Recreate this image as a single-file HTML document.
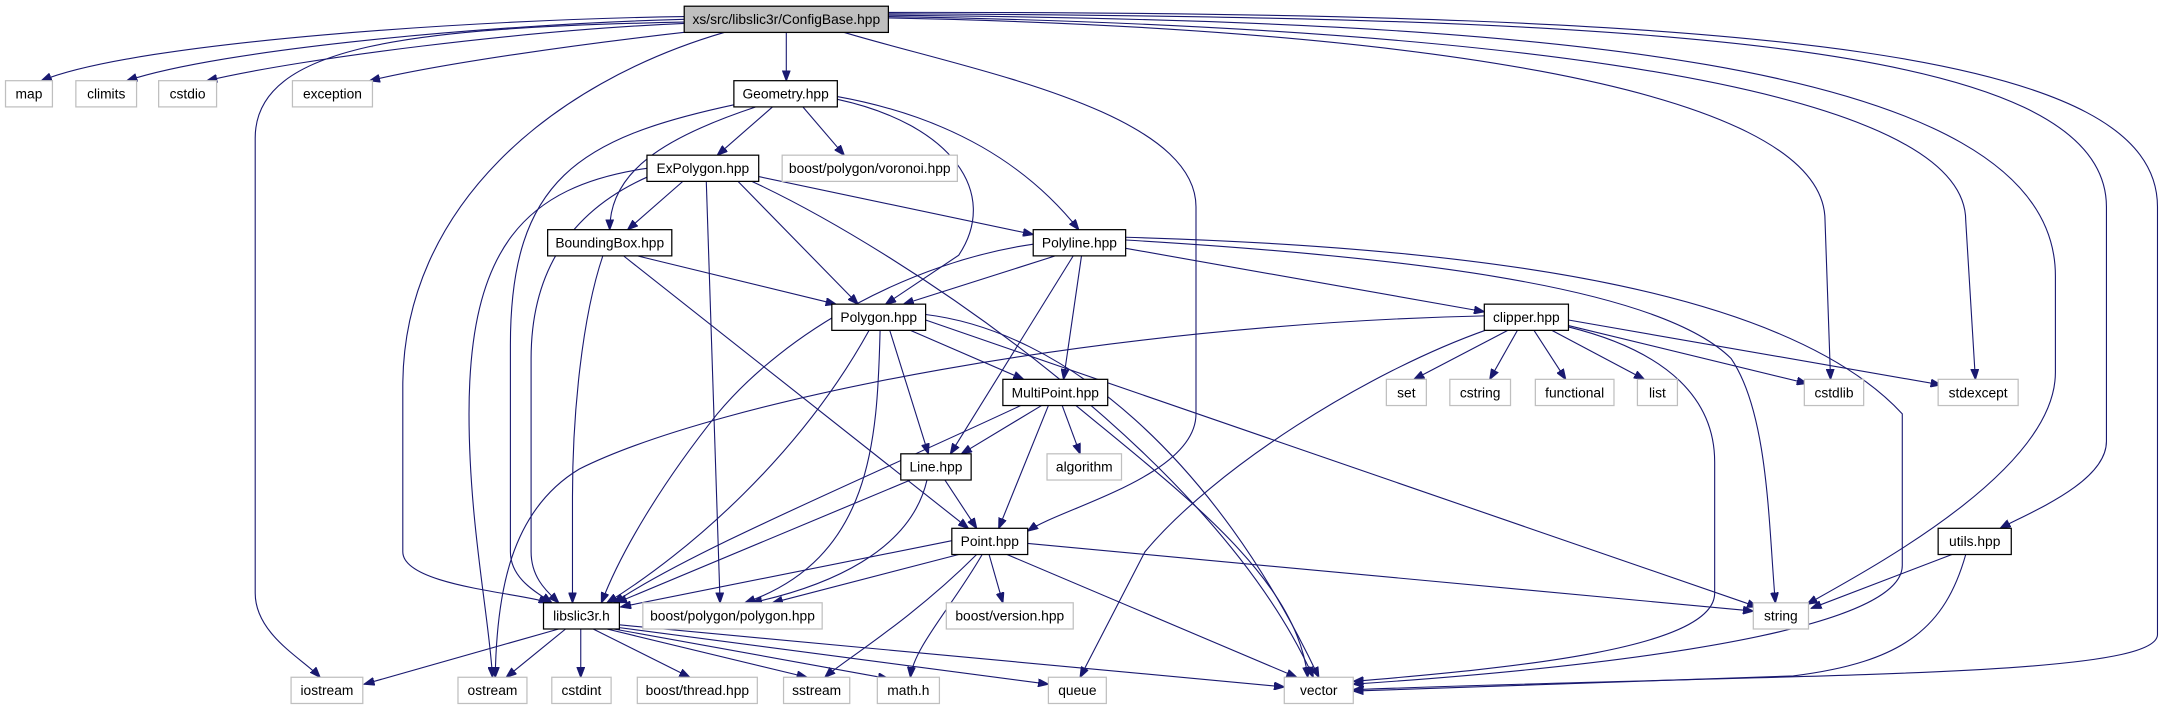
<!DOCTYPE html>
<html><head><meta charset="utf-8"><style>
html,body{margin:0;padding:0;background:#fff;}
svg{display:block;}
text{font-family:"Liberation Sans",Arial,sans-serif;font-size:10px;fill:#000;text-anchor:middle;}
.e{fill:none;stroke:#191970;stroke-width:0.8;}
.n{fill:#fff;stroke:#000;stroke-width:0.9;}
.x{fill:#fff;stroke:#bfbfbf;stroke-width:0.9;}
</style></head><body>
<svg width="2163" height="709" viewBox="0 0 1568 514" preserveAspectRatio="none" xmlns="http://www.w3.org/2000/svg">
<defs><marker id="a" markerUnits="userSpaceOnUse" markerWidth="8" markerHeight="6" refX="7.5" refY="3" orient="auto"><path d="M0,0 L8,3 L0,6 z" fill="#191970" stroke="#191970" stroke-width="0.5"/></marker></defs>
<g marker-end="url(#a)">
<!-- ConfigBase -->
<path class="e" d="M496,12 C350,14 100,30 30,58.5"/>
<path class="e" d="M496,14 C350,18 160,36 92,58.5"/>
<path class="e" d="M496,17 C380,22 220,42 150,58.5"/>
<path class="e" d="M500,23 C420,32 320,46 268,58.5"/>
<path class="e" d="M496,16 C300,20 185,32 185,100 L185,430 C185,460 220,478 232,491"/>
<path class="e" d="M525,23.5 C400,60 292,150 292,280 L292,400 C292,425 380,430 398,437"/>
<path class="e" d="M570,23.5 L570,58.5"/>
<path class="e" d="M612,23.5 C700,50 867,80 867,150 L867,300 C867,345 770,368 745,385"/>
<path class="e" d="M644,13 C1000,20 1323,60 1323,160 L1327,275"/>
<path class="e" d="M644,12 C1000,18 1425,50 1425,160 L1432,275"/>
<path class="e" d="M644,11 C1100,15 1490,40 1490,200 L1490,270 C1490,340 1360,410 1310,438"/>
<path class="e" d="M644,10 C1200,12 1527,30 1527,150 L1527,320 C1527,350 1470,372 1450,383"/>
<path class="e" d="M644,9 C1300,8 1564,40 1564,150 L1564,460 C1564,492 1300,488 981,500"/>
<!-- Geometry -->
<path class="e" d="M560,77.5 L520,112.5"/>
<path class="e" d="M582,77.5 L612,112.5"/>
<path class="e" d="M548,77.5 C480,100 442,125 442,166.5"/>
<path class="e" d="M532,76 C420,100 370,130 370,250 L370,400 C370,420 390,430 400,437"/>
<path class="e" d="M607,72 C690,90 725,140 695,185 L642,220.5"/>
<path class="e" d="M607,70 C690,85 745,120 782,166.5"/>
<!-- ExPolygon -->
<path class="e" d="M495,131.5 L455,166.5"/>
<path class="e" d="M550,128 L749,170"/>
<path class="e" d="M535,131.5 L622,220.5"/>
<path class="e" d="M545,131.5 C650,180 880,330 952,491"/>
<path class="e" d="M512,131.5 L522,437"/>
<path class="e" d="M470,128 C420,150 385,190 385,260 L385,400 C385,420 398,430 405,437"/>
<path class="e" d="M469,122 C380,135 340,180 340,300 C340,380 355,450 357,491"/>
<!-- BoundingBox -->
<path class="e" d="M462,185.5 L606,220.5"/>
<path class="e" d="M437,185.5 C422,230 415,300 415,360 L415,437"/>
<path class="e" d="M452,185.5 L702,383"/>
<!-- Polyline -->
<path class="e" d="M765,185.5 L655,220.5"/>
<path class="e" d="M749,177 C660,190 570,240 520,300 C480,350 450,400 436,437"/>
<path class="e" d="M778,185.5 L689,329"/>
<path class="e" d="M784,185.5 L771,275"/>
<path class="e" d="M816,180 L1076,226"/>
<path class="e" d="M816,174 C1000,185 1200,205 1255,260 C1282,300 1282,380 1287,437"/>
<path class="e" d="M816,172 C1100,180 1300,215 1379,300 L1379,410 C1379,465 1100,488 981,496"/>
<!-- Polygon -->
<path class="e" d="M660,239.5 L742,275"/>
<path class="e" d="M645,239.5 L673,329"/>
<path class="e" d="M630,239.5 C580,330 500,400 440,437"/>
<path class="e" d="M638,239.5 C636,320 632,405 540,437"/>
<path class="e" d="M671,228 C770,240 880,330 956,491"/>
<path class="e" d="M671,232 L1274,440"/>
<!-- clipper -->
<path class="e" d="M1093,239.5 L1025,275"/>
<path class="e" d="M1100,239.5 L1080,275"/>
<path class="e" d="M1112,239.5 L1135,275"/>
<path class="e" d="M1125,239.5 L1192,275"/>
<path class="e" d="M1137,236 L1310,278"/>
<path class="e" d="M1137,232 L1407,279"/>
<path class="e" d="M1076,229 C800,235 520,290 420,340 C370,370 360,430 359,491"/>
<path class="e" d="M1078,239 C990,270 880,340 830,400 L783,491"/>
<path class="e" d="M1137,237 C1210,255 1243,290 1243,335 L1243,430 C1243,470 1100,484 981,494"/>
<!-- MultiPoint -->
<path class="e" d="M755,294 L697,329"/>
<path class="e" d="M770,294 L783,329"/>
<path class="e" d="M760,294 L724,383"/>
<path class="e" d="M740,294 C620,350 500,400 445,437"/>
<path class="e" d="M780,294 C860,360 940,420 948,491"/>
<!-- Line -->
<path class="e" d="M685,348 L708,383"/>
<path class="e" d="M660,348 L447,437"/>
<path class="e" d="M672,348 C660,400 600,425 545,437"/>
<!-- Point -->
<path class="e" d="M690,392 L450,440"/>
<path class="e" d="M695,402 L560,437"/>
<path class="e" d="M717,402 L727,437"/>
<path class="e" d="M708,402 C660,450 610,480 598,491"/>
<path class="e" d="M712,402 C690,440 662,470 660,491"/>
<path class="e" d="M730,402 L940,491"/>
<path class="e" d="M745,394 L1271,443"/>
<!-- utils -->
<path class="e" d="M1415,402 L1313,441"/>
<path class="e" d="M1425,402 C1410,455 1380,480 1300,490 L981,501"/>
<!-- libslic3r -->
<path class="e" d="M405,456 L264,496"/>
<path class="e" d="M410,456 L367,491"/>
<path class="e" d="M421,456 L421,491"/>
<path class="e" d="M430,456 L500,491"/>
<path class="e" d="M440,456 L585,491"/>
<path class="e" d="M445,456 L644,492"/>
<path class="e" d="M449,455 L760,496"/>
<path class="e" d="M449,453 L931,498"/>
</g>
<!-- nodes -->
<rect x="496" y="4.5" width="148" height="19" fill="#bfbfbf" stroke="#000" stroke-width="0.9"/><text x="570" y="17.5">xs/src/libslic3r/ConfigBase.hpp</text>
<rect class="x" x="4" y="58.5" width="34" height="19"/><text x="21" y="71.5">map</text>
<rect class="x" x="55" y="58.5" width="44" height="19"/><text x="77" y="71.5">climits</text>
<rect class="x" x="115" y="58.5" width="42" height="19"/><text x="136" y="71.5">cstdio</text>
<rect class="x" x="212" y="58.5" width="58" height="19"/><text x="241" y="71.5">exception</text>
<rect class="n" x="532" y="58.5" width="75" height="19"/><text x="569.5" y="71.5">Geometry.hpp</text>
<rect class="n" x="469" y="112.5" width="81" height="19"/><text x="509.5" y="125.5">ExPolygon.hpp</text>
<rect class="x" x="567" y="112.5" width="127" height="19"/><text x="630.5" y="125.5">boost/polygon/voronoi.hpp</text>
<rect class="n" x="397" y="166.5" width="90" height="19"/><text x="442" y="179.5">BoundingBox.hpp</text>
<rect class="n" x="749" y="166.5" width="67" height="19"/><text x="782.5" y="179.5">Polyline.hpp</text>
<rect class="n" x="603" y="220.5" width="68" height="19"/><text x="637" y="233.5">Polygon.hpp</text>
<rect class="n" x="1076" y="220.5" width="61" height="19"/><text x="1106.5" y="233.5">clipper.hpp</text>
<rect class="n" x="727" y="275" width="76" height="19"/><text x="765" y="288">MultiPoint.hpp</text>
<rect class="x" x="1005" y="275" width="29" height="19"/><text x="1019.5" y="288">set</text>
<rect class="x" x="1051" y="275" width="44" height="19"/><text x="1073" y="288">cstring</text>
<rect class="x" x="1113" y="275" width="57" height="19"/><text x="1141.5" y="288">functional</text>
<rect class="x" x="1187" y="275" width="29" height="19"/><text x="1201.5" y="288">list</text>
<rect class="x" x="1308" y="275" width="43" height="19"/><text x="1329.5" y="288">cstdlib</text>
<rect class="x" x="1405" y="275" width="58" height="19"/><text x="1434" y="288">stdexcept</text>
<rect class="n" x="653" y="329" width="51" height="19"/><text x="678.5" y="342">Line.hpp</text>
<rect class="x" x="759" y="329" width="54" height="19"/><text x="786" y="342">algorithm</text>
<rect class="n" x="690" y="383" width="55" height="19"/><text x="717.5" y="396">Point.hpp</text>
<rect class="n" x="1405" y="383" width="53" height="19"/><text x="1431.5" y="396">utils.hpp</text>
<rect class="n" x="394" y="437" width="55" height="19"/><text x="421.5" y="450">libslic3r.h</text>
<rect class="x" x="466" y="437" width="130" height="19"/><text x="531" y="450">boost/polygon/polygon.hpp</text>
<rect class="x" x="686" y="437" width="92" height="19"/><text x="732" y="450">boost/version.hpp</text>
<rect class="x" x="1271" y="437" width="40" height="19"/><text x="1291" y="450">string</text>
<rect class="x" x="211" y="491" width="52" height="19"/><text x="237" y="504">iostream</text>
<rect class="x" x="332" y="491" width="50" height="19"/><text x="357" y="504">ostream</text>
<rect class="x" x="400" y="491" width="43" height="19"/><text x="421.5" y="504">cstdint</text>
<rect class="x" x="462" y="491" width="87" height="19"/><text x="505.5" y="504">boost/thread.hpp</text>
<rect class="x" x="568" y="491" width="48" height="19"/><text x="592" y="504">sstream</text>
<rect class="x" x="636" y="491" width="45" height="19"/><text x="658.5" y="504">math.h</text>
<rect class="x" x="760" y="491" width="42" height="19"/><text x="781" y="504">queue</text>
<rect class="x" x="931" y="491" width="50" height="19"/><text x="956" y="504">vector</text>
</svg>
</body></html>
